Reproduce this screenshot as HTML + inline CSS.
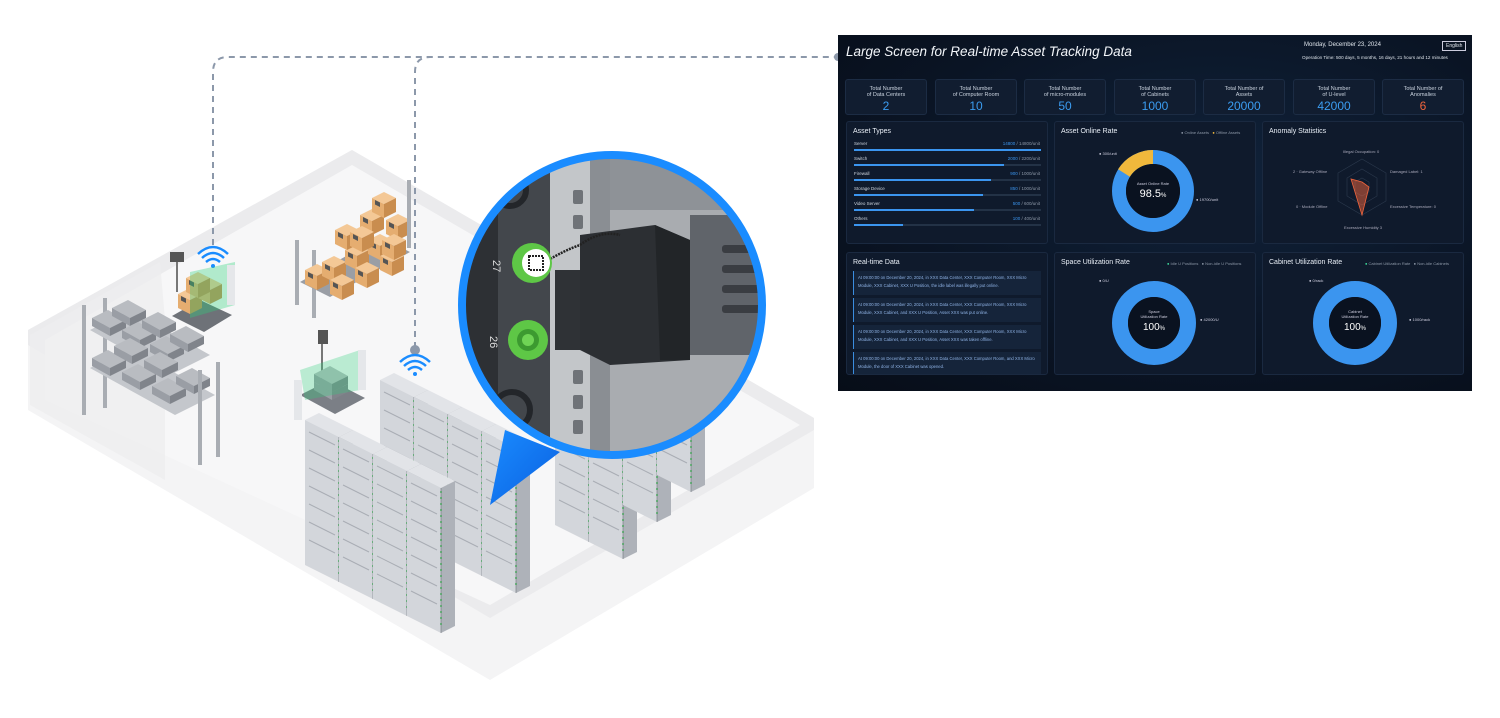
<!DOCTYPE html>
<html><head><meta charset="utf-8"><style>
*{margin:0;padding:0;box-sizing:border-box}
body{width:1500px;height:718px;background:#fff;position:relative;overflow:hidden;font-family:"Liberation Sans",sans-serif}
#dash{position:absolute;left:838px;top:35px;width:634px;height:356px;background:radial-gradient(ellipse at 60% 40%,#10223a 0%,#0a1424 60%,#070d18 100%);color:#fff}
.t{position:absolute;white-space:nowrap}
.card{position:absolute;top:44px;width:82px;height:36px;background:#111d30;border:1px solid #1c2c44;border-radius:3px;text-align:center;font-size:5.5px;color:#c9d2de;line-height:6px;padding-top:6px}
.card b{display:block;font-weight:normal;font-size:12px;color:#3b9cf0;line-height:14px;margin-top:1px}
.pan{position:absolute;width:202px;height:123px;background:#0f1a2c;border:1px solid #1a2940;border-radius:3px}
.pan h4{position:absolute;left:6px;top:6px;font-size:7px;font-weight:normal;color:#e8eef6}
.bar{position:absolute;left:7px;width:187px;height:2px;background:#233246}
.bar i{display:block;height:2px;background:#3b95ef}
.lb{position:absolute;left:7px;font-size:4.5px;color:#cfd6df}
.lv{position:absolute;right:7px;font-size:4.5px;color:#8d98a8}
.lv span{color:#3b95ef}
.msg{position:absolute;left:6px;width:188px;height:24px;background:#15243a;border-left:1px solid #3b8de0;font-size:4.2px;color:#8fb3e6;padding:3px 4px;line-height:8px}
.lg{position:absolute;top:8px;font-size:4px;color:#8d98a8}
</style></head><body>
<svg width="1500" height="718" style="position:absolute;left:0;top:0">
<defs>
<linearGradient id="pg" x1="0" y1="0" x2="1" y2="1"><stop offset="0" stop-color="#1a8cff"/><stop offset="1" stop-color="#0a5fe0"/></linearGradient>
<g id="rack">
<polygon points="0,0 14,-7 48,10 34,17" fill="#e2e4e8"/>
<polygon points="0,0 34,17 34,162 0,145" fill="#d3d6db"/>
<polygon points="34,17 48,10 48,155 34,162" fill="#aeb2b9"/>
<g stroke="#a9adb4" stroke-width="1">
<line x1="4" y1="12" x2="30" y2="25"/><line x1="4" y1="30" x2="30" y2="43"/><line x1="4" y1="48" x2="30" y2="61"/><line x1="4" y1="66" x2="30" y2="79"/><line x1="4" y1="84" x2="30" y2="97"/><line x1="4" y1="102" x2="30" y2="115"/><line x1="4" y1="120" x2="30" y2="133"/>
</g>
<line x1="34" y1="20" x2="34" y2="158" stroke="#2fbf4a" stroke-width="1.5" stroke-dasharray="2 4"/>
<line x1="34" y1="17" x2="34" y2="162" stroke="#6f747b" stroke-width="0.6"/>
</g>
<g id="box">
<polygon points="0,0 12,-6 24,0 12,6" fill="#f4c896"/>
<polygon points="0,0 12,6 12,20 0,14" fill="#e5ad70"/>
<polygon points="12,6 24,0 24,14 12,20" fill="#c98d4f"/>
<polygon points="3,2 8,4.5 8,9 3,6.5" fill="#555"/>
</g>
<g id="srv">
<polygon points="0,0 16,-8 34,2 18,10" fill="#b9bcc1"/>
<polygon points="0,0 18,10 18,18 0,8" fill="#9a9ea5"/>
<polygon points="18,10 34,2 34,10 18,18" fill="#80848b"/>
</g>
</defs>
<!-- floor -->
<polygon points="28,330 352,150 814,418 814,488 490,680 28,410" fill="#f4f4f5"/>
<polygon points="28,330 352,150 814,418 814,430 490,618 28,345" fill="#ebebed"/>
<polygon points="45,340 352,165 800,425 490,605 45,400" fill="#f7f7f8"/>
<polygon points="165,320 160,262 30,335 30,405 165,480" fill="#ededef" opacity="0.8"/>
<!-- dashed connectors -->
<path d="M213,245 V72 Q213,57 228,57 H838" fill="none" stroke="#8c98aa" stroke-width="2" stroke-dasharray="6 5"/>
<path d="M415,348 V72 Q415,57 430,57" fill="none" stroke="#8c98aa" stroke-width="2" stroke-dasharray="6 5"/>
<circle cx="838" cy="57" r="4" fill="#8c98aa"/>
<circle cx="415" cy="350" r="5" fill="#8c98aa"/>
<!-- wifi -->
<g fill="none" stroke="#1a8cff" stroke-width="2.5">
<path d="M202,258 Q213,248 224,258"/><path d="M206,262 Q213,256 220,262"/><path d="M198,254 Q213,240 228,254"/>
<path d="M404,366 Q415,356 426,366"/><path d="M408,370 Q415,364 422,370"/><path d="M400,362 Q415,348 430,362"/>
</g>
<circle cx="213" cy="266" r="2" fill="#1a8cff"/><circle cx="415" cy="374" r="2" fill="#1a8cff"/>
<!-- left shelf with servers -->
<g>
<rect x="82" y="305" width="4" height="110" fill="#a9adb3"/><rect x="103" y="298" width="4" height="110" fill="#a9adb3"/>
<polygon points="90,330 130,310 210,355 170,375" fill="#c4c7cc"/>
<polygon points="90,368 130,348 215,395 175,415" fill="#c4c7cc"/>
<use href="#srv" x="92" y="318"/><use href="#srv" x="112" y="308"/><use href="#srv" x="122" y="330"/><use href="#srv" x="142" y="320"/><use href="#srv" x="150" y="344"/><use href="#srv" x="170" y="334"/>
<use href="#srv" x="92" y="358"/><use href="#srv" x="114" y="346"/><use href="#srv" x="122" y="372"/><use href="#srv" x="144" y="360"/><use href="#srv" x="152" y="386"/><use href="#srv" x="176" y="376"/>
<rect x="198" y="370" width="4" height="95" fill="#a9adb3"/><rect x="216" y="362" width="4" height="95" fill="#a9adb3"/>
</g>
<!-- cart with boxes -->
<g>
<rect x="170" y="252" width="14" height="10" fill="#555"/><rect x="176" y="262" width="2" height="30" fill="#777"/>
<polygon points="172,316 200,300 232,315 204,332" fill="#6e7278"/>
<use href="#box" x="178" y="294"/><use href="#box" x="198" y="284"/><use href="#box" x="186" y="278"/>
<polygon points="190,272 235,262 235,305 190,318" fill="#2fd07a" opacity="0.35"/>
<rect x="227" y="265" width="8" height="40" fill="#e5e7ea"/>
</g>
<!-- boxes shelf -->
<g>
<rect x="295" y="240" width="4" height="65" fill="#a9adb3"/><rect x="312" y="250" width="4" height="68" fill="#a9adb3"/>
<polygon points="300,282 380,237 410,252 330,297" fill="#9a9ea5"/>
<use href="#box" x="305" y="270"/><use href="#box" x="322" y="262"/><use href="#box" x="330" y="280"/><use href="#box" x="345" y="250"/><use href="#box" x="355" y="268"/><use href="#box" x="368" y="240"/><use href="#box" x="380" y="256"/>
<use href="#box" x="335" y="230"/><use href="#box" x="360" y="215"/><use href="#box" x="372" y="198"/><use href="#box" x="386" y="220"/><use href="#box" x="382" y="240"/><use href="#box" x="350" y="232"/>
<rect x="407" y="180" width="4" height="68" fill="#a9adb3"/>
</g>
<!-- second cart -->
<g>
<rect x="318" y="330" width="10" height="14" fill="#555"/><rect x="321" y="344" width="2" height="40" fill="#777"/>
<polygon points="300,395 330,380 365,398 335,414" fill="#7b7f86"/>
<use href="#srv" x="314" y="382"/><use href="#srv" x="314" y="374"/>
<polygon points="300,370 360,350 360,390 305,400" fill="#2fd07a" opacity="0.3"/>
<rect x="294" y="380" width="8" height="40" fill="#e5e7ea"/><rect x="358" y="350" width="8" height="40" fill="#e5e7ea"/>
</g>
<!-- racks back row -->
<use href="#rack" x="555" y="380"/><use href="#rack" x="589" y="397"/><use href="#rack" x="623" y="360"/><use href="#rack" x="657" y="330"/>
<!-- middle row -->
<use href="#rack" x="380" y="380"/><use href="#rack" x="414" y="397"/><use href="#rack" x="448" y="414"/><use href="#rack" x="482" y="431"/>
<!-- front row -->
<use href="#rack" x="305" y="420"/><use href="#rack" x="339" y="437"/><use href="#rack" x="373" y="454"/><use href="#rack" x="407" y="471"/>
<!-- magnifier pointer -->
<polygon points="505,430 560,452 490,505" fill="url(#pg)"/>
<!-- magnifier -->
<clipPath id="cc"><circle cx="612" cy="305" r="150"/></clipPath>
<g clip-path="url(#cc)">
<rect x="460" y="150" width="310" height="310" fill="#a9acb0"/>
<rect x="460" y="150" width="40" height="310" fill="#2d3034"/>
<rect x="498" y="150" width="52" height="310" fill="#43474c"/>
<rect x="550" y="150" width="40" height="310" fill="#c3c6c9"/>
<rect x="590" y="150" width="20" height="310" fill="#8a8e93"/>
<rect x="610" y="150" width="160" height="60" fill="#8e9297"/>
<rect x="690" y="215" width="80" height="140" fill="#60646a"/>
<g fill="#6f7378"><rect x="573" y="190" width="10" height="14" rx="2"/><rect x="573" y="215" width="10" height="14" rx="2"/><rect x="573" y="370" width="10" height="14" rx="2"/><rect x="573" y="395" width="10" height="14" rx="2"/><rect x="573" y="420" width="10" height="14" rx="2"/></g>
<g fill="#3a3d42"><rect x="722" y="245" width="40" height="8" rx="3"/><rect x="722" y="265" width="40" height="8" rx="3"/><rect x="722" y="285" width="40" height="8" rx="3"/><rect x="722" y="305" width="40" height="8" rx="3"/></g>
<rect x="555" y="270" width="30" height="80" fill="#2f3236"/>
<polygon points="580,235 655,225 690,240 690,360 610,365 580,350" fill="#2c2f33"/>
<polygon points="655,225 690,240 690,360 660,360" fill="#222528"/>
<path d="M545,262 Q565,250 580,245 Q600,230 620,235" stroke="#222" stroke-width="2.5" fill="none" stroke-dasharray="2 1"/>
<circle cx="532" cy="263" r="20" fill="#5ec746"/><circle cx="536" cy="263" r="14" fill="#fff"/>
<rect x="529" y="256" width="14" height="14" fill="#fff" stroke="#222" stroke-width="2" stroke-dasharray="2 1"/>
<circle cx="528" cy="340" r="20" fill="#5ec746"/><circle cx="528" cy="340" r="11" fill="#3c9a30"/><circle cx="528" cy="340" r="6" fill="#6fd455"/>
<circle cx="510" cy="190" r="16" fill="none" stroke="#23262a" stroke-width="6"/>
<circle cx="512" cy="410" r="18" fill="none" stroke="#23262a" stroke-width="6"/>
<text x="493" y="268" font-size="11" fill="#ddd" font-family="Liberation Sans" transform="rotate(90 497 264)">27</text>
<text x="490" y="344" font-size="11" fill="#ddd" font-family="Liberation Sans" transform="rotate(90 494 340)">26</text>
</g>
<circle cx="612" cy="305" r="150" fill="none" stroke="#1a8cff" stroke-width="8"/>
</svg>

<div id="dash">
<div class="t" style="left:8px;top:9px;font-size:13.5px;font-style:italic;color:#f3f6fa">Large Screen for Real-time Asset Tracking Data</div>
<div class="t" style="left:466px;top:7px;font-size:6px;color:#dfe5ec">Monday, December 23, 2024</div>
<div class="t" style="left:604px;top:6px;font-size:5px;color:#dfe5ec;border:1px solid #ccd;padding:1px 3px">English</div>
<div class="t" style="left:464px;top:20px;font-size:4.6px;color:#dfe5ec">Operation Time: 500 days, 5 months, 16 days, 21 hours and 12 minutes</div>

<div class="card" style="left:7px">Total Number<br>of Data Centers<b>2</b></div>
<div class="card" style="left:97px">Total Number<br>of Computer Room<b>10</b></div>
<div class="card" style="left:186px">Total Number<br>of micro-modules<b>50</b></div>
<div class="card" style="left:276px">Total Number<br>of Cabinets<b>1000</b></div>
<div class="card" style="left:365px">Total Number of<br>Assets<b>20000</b></div>
<div class="card" style="left:455px">Total Number<br>of U-level<b>42000</b></div>
<div class="card" style="left:544px">Total Number of<br>Anomalies<b style="color:#f0643c">6</b></div>

<div class="pan" style="left:8px;top:86px"><h4>Asset Types</h4>
<div class="lb" style="top:19px">Server</div><div class="lv" style="top:19px"><span>14800</span> / 14800/unit</div><div class="bar" style="top:27px"><i style="width:100%"></i></div>
<div class="lb" style="top:34px">Switch</div><div class="lv" style="top:34px"><span>2000</span> / 2200/unit</div><div class="bar" style="top:42px"><i style="width:80%"></i></div>
<div class="lb" style="top:49px">Firewall</div><div class="lv" style="top:49px"><span>900</span> / 1000/unit</div><div class="bar" style="top:57px"><i style="width:73%"></i></div>
<div class="lb" style="top:64px">Storage Device</div><div class="lv" style="top:64px"><span>850</span> / 1000/unit</div><div class="bar" style="top:72px"><i style="width:69%"></i></div>
<div class="lb" style="top:79px">Video Server</div><div class="lv" style="top:79px"><span>500</span> / 600/unit</div><div class="bar" style="top:87px"><i style="width:64%"></i></div>
<div class="lb" style="top:94px">Others</div><div class="lv" style="top:94px"><span>100</span> / 400/unit</div><div class="bar" style="top:102px"><i style="width:26%"></i></div>
</div>

<div class="pan" style="left:216px;top:86px"><h4>Asset Online Rate</h4>
<div class="lg" style="left:126px">● Online Assets &nbsp; <span style="color:#f0b83c">●</span> Offline Assets</div>
<svg width="202" height="123" style="position:absolute;left:0;top:0">
<circle cx="98" cy="69" r="34" fill="none" stroke="#3b95ef" stroke-width="14"/>
<path d="M98,35 A34,34 0 0,0 69,51" fill="none" stroke="#f0b83c" stroke-width="14"/>
<circle cx="98" cy="69" r="27" fill="#0a1220"/>
<text x="98" y="63" font-size="4" fill="#ccd" text-anchor="middle" font-family="Liberation Sans">Asset Online Rate</text>
<text x="98" y="75" font-size="11" fill="#fff" text-anchor="middle" font-family="Liberation Sans">98.5<tspan font-size="6">%</tspan></text>
<text x="44" y="33" font-size="4" fill="#ccd" font-family="Liberation Sans">● 300/unit</text>
<text x="141" y="79" font-size="4" fill="#ccd" font-family="Liberation Sans">● 19700/unit</text>
</svg></div>

<div class="pan" style="left:424px;top:86px"><h4>Anomaly Statistics</h4>
<svg width="202" height="123" style="position:absolute;left:0;top:0">
<g fill="none" stroke="#2c3a4e" stroke-width="0.6">
<polygon points="99,37 123,51 123,79 99,93 75,79 75,51"/><polygon points="99,47 114,56 114,74 99,83 84,74 84,56"/><polygon points="99,56 106,60 106,70 99,74 92,70 92,60"/>
</g>
<polygon points="99,60 106,65 99,93 88,57" fill="#f0643c" fill-opacity="0.5" stroke="#f0643c" stroke-width="0.8"/>
<g font-size="4" fill="#aab" font-family="Liberation Sans"><text x="80" y="31">Illegal Occupation: 0</text><text x="127" y="51">Damaged Label: 1</text><text x="127" y="86">Excessive Temperature: 0</text><text x="81" y="107">Excessive Humidity 3</text><text x="33" y="86">0 · Module Offline</text><text x="30" y="51">2 · Gateway Offline</text></g>
</svg></div>

<div class="pan" style="left:8px;top:217px"><h4>Real-time Data</h4>
<div class="msg" style="top:18px">At 09:00:00 on December 20, 2024, in XXX Data Center, XXX Computer Room, XXX Micro Module, XXX Cabinet, XXX U Position, the idle label was illegally put online.</div>
<div class="msg" style="top:45px">At 09:00:00 on December 20, 2024, in XXX Data Center, XXX Computer Room, XXX Micro Module, XXX Cabinet, and XXX U Position, Asset XXX was put online.</div>
<div class="msg" style="top:72px">At 09:00:00 on December 20, 2024, in XXX Data Center, XXX Computer Room, XXX Micro Module, XXX Cabinet, and XXX U Position, Asset XXX was taken offline.</div>
<div class="msg" style="top:99px;height:22px">At 09:00:00 on December 20, 2024, in XXX Data Center, XXX Computer Room, and XXX Micro Module, the door of XXX Cabinet was opened.</div>
</div>

<div class="pan" style="left:216px;top:217px"><h4>Space Utilization Rate</h4>
<div class="lg" style="left:112px"><span style="color:#3fe0a0">●</span> Idle U Positions &nbsp; ● Non-idle U Positions</div>
<svg width="202" height="123" style="position:absolute;left:0;top:0">
<circle cx="99" cy="70" r="34" fill="none" stroke="#3b95ef" stroke-width="16"/>
<circle cx="99" cy="70" r="26" fill="#0a1220"/>
<text x="99" y="60" font-size="4" fill="#ccd" text-anchor="middle" font-family="Liberation Sans">Space</text>
<text x="99" y="65" font-size="4" fill="#ccd" text-anchor="middle" font-family="Liberation Sans">Utilization Rate</text>
<text x="99" y="77" font-size="10" fill="#fff" text-anchor="middle" font-family="Liberation Sans">100<tspan font-size="6">%</tspan></text>
<text x="44" y="29" font-size="4" fill="#ccd" font-family="Liberation Sans">● 0/U</text>
<text x="145" y="68" font-size="4" fill="#ccd" font-family="Liberation Sans">● 42000/U</text>
</svg></div>

<div class="pan" style="left:424px;top:217px"><h4>Cabinet Utilization Rate</h4>
<div class="lg" style="left:102px"><span style="color:#3fe0a0">●</span> Cabinet Utilization Rate &nbsp; ● Non-idle Cabinets</div>
<svg width="202" height="123" style="position:absolute;left:0;top:0">
<circle cx="92" cy="70" r="34" fill="none" stroke="#3b95ef" stroke-width="16"/>
<circle cx="92" cy="70" r="26" fill="#0a1220"/>
<text x="92" y="60" font-size="4" fill="#ccd" text-anchor="middle" font-family="Liberation Sans">Cabinet</text>
<text x="92" y="65" font-size="4" fill="#ccd" text-anchor="middle" font-family="Liberation Sans">Utilization Rate</text>
<text x="92" y="77" font-size="10" fill="#fff" text-anchor="middle" font-family="Liberation Sans">100<tspan font-size="6">%</tspan></text>
<text x="46" y="29" font-size="4" fill="#ccd" font-family="Liberation Sans">● 0/rack</text>
<text x="146" y="68" font-size="4" fill="#ccd" font-family="Liberation Sans">● 1000/rack</text>
</svg></div>
</div>
</body></html>
